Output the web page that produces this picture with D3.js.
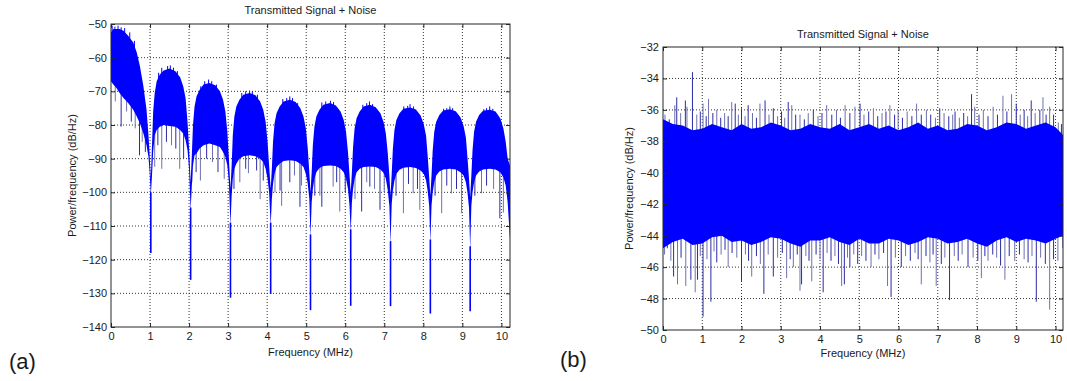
<!DOCTYPE html>
<html>
<head>
<meta charset="utf-8">
<script src="https://cdn.jsdelivr.net/npm/d3@7"></script>
<style>
  body { margin: 0; background: #fff; }
  svg text { font-family: "Liberation Sans", Arial, sans-serif; fill: #1a1a1a; }
</style>
</head>
<body>
<svg id="chart" width="1067" height="381"></svg>
<script>
// ---- data ----
const freqTicks = [0, 1, 2, 3, 4, 5, 6, 7, 8, 9, 10];
const yTicksA = [-140, -130, -120, -110, -100, -90, -80, -70, -60, -50];
const yTicksB = [-50, -48, -46, -44, -42, -40, -38, -36, -34, -32];

// (a) dense PSD band: [MHz, top dB, bottom dB]
const bandA = [
  [0.00, -52.5, -67], [0.06, -51.5, -68], [0.14, -51.5, -69], [0.22, -51.5, -70.5],
  [0.32, -52, -72], [0.44, -53.5, -73.5], [0.57, -55.5, -75.5], [0.66, -58.5, -77.5],
  [0.74, -62.5, -79.5], [0.83, -68.5, -82.5], [0.91, -75.5, -86], [0.96, -83, -89.5],
  [0.99, -89, -94], [1.02, -96, -101],
  [1.05, -86, -95], [1.08, -76, -88], [1.12, -70.5, -83], [1.17, -67, -81.5],
  [1.25, -65, -80.5], [1.35, -63.8, -80], [1.50, -63.2, -80.3], [1.65, -64, -80.5],
  [1.77, -65.8, -81.5], [1.85, -68.5, -82.5], [1.91, -72, -84.5], [1.96, -79, -87.5],
  [2.00, -87, -93], [2.04, -97, -105.5],
  [2.07, -89, -98], [2.10, -80, -92], [2.14, -74.5, -89], [2.19, -71.5, -88.5],
  [2.27, -69.5, -87], [2.37, -68, -86], [2.52, -67.5, -85.5], [2.67, -68.2, -86],
  [2.79, -70, -86.5], [2.87, -72.5, -88], [2.93, -76, -89.5], [2.98, -82, -92],
  [3.02, -90, -97], [3.06, -99, -110],
  [3.09, -92, -101], [3.12, -83, -96], [3.16, -77.5, -93], [3.21, -74.5, -91.5],
  [3.29, -72.5, -90], [3.39, -71, -89.3], [3.55, -70.5, -89], [3.70, -71.2, -89.3],
  [3.82, -73, -90], [3.90, -75.5, -91], [3.96, -79, -93], [4.01, -85, -96],
  [4.05, -92, -100], [4.09, -99, -110],
  [4.12, -93, -102], [4.15, -85, -97.5], [4.19, -79.5, -94.5], [4.24, -76.5, -92.5],
  [4.32, -74.5, -91.5], [4.42, -73, -90.7], [4.58, -72.5, -90.5], [4.73, -73.2, -90.7],
  [4.85, -75, -91.5], [4.93, -77.5, -92.5], [4.99, -81, -94.5], [5.04, -87, -97.5],
  [5.08, -94, -102], [5.11, -100, -113.5],
  [5.14, -94, -103], [5.17, -86, -99], [5.21, -80.5, -96], [5.26, -77.5, -94],
  [5.34, -75.5, -92.8], [5.44, -74, -92.2], [5.61, -73.5, -92], [5.76, -74.2, -92.2],
  [5.88, -76, -93], [5.96, -78.5, -94], [6.02, -82, -96], [6.07, -88, -99],
  [6.11, -95, -104], [6.14, -100, -112],
  [6.17, -94, -103], [6.20, -86.5, -99], [6.24, -81, -96], [6.29, -78, -94],
  [6.37, -76, -93], [6.47, -74.5, -92.5], [6.63, -74, -92.3], [6.78, -74.7, -92.5],
  [6.90, -76.5, -93.2], [6.98, -79, -94.2], [7.04, -82.5, -96], [7.09, -88.5, -99.5],
  [7.13, -95, -104], [7.16, -101, -115.5],
  [7.19, -94.5, -103.5], [7.22, -87, -99.5], [7.26, -81.5, -96.5], [7.31, -78.5, -94.5],
  [7.39, -76.5, -93.3], [7.49, -75.2, -92.7], [7.66, -74.8, -92.5], [7.81, -75.4, -92.8],
  [7.93, -77.2, -93.5], [8.01, -79.7, -94.5], [8.07, -83.2, -96.5], [8.11, -89, -99.5],
  [8.15, -95.5, -104], [8.18, -101, -115],
  [8.21, -95, -104], [8.24, -87.5, -100], [8.28, -82, -97], [8.33, -79, -95],
  [8.41, -77, -93.8], [8.51, -75.7, -93.2], [8.68, -75.3, -93], [8.83, -75.9, -93.2],
  [8.95, -77.7, -94], [9.03, -80.2, -95], [9.09, -83.7, -97], [9.13, -89.5, -100],
  [9.17, -96, -104.5], [9.20, -101.5, -117],
  [9.23, -95, -104], [9.26, -87.5, -100], [9.30, -82, -97], [9.35, -79, -95],
  [9.43, -77, -93.8], [9.53, -75.8, -93.2], [9.70, -75.5, -93], [9.85, -76, -93.2],
  [9.97, -78, -94], [10.05, -81, -95.5], [10.11, -85, -98], [10.16, -90, -103],
  [10.22, -92, -114],
];
// (a) deep nulls: [MHz, dB]
const nullsA = [
  [1.02, -118], [2.04, -126], [3.06, -131.3], [4.09, -130.2], [5.11, -135],
  [6.14, -133.7], [7.16, -133.8], [8.18, -136], [9.20, -135.3],
];
// (a) spikes below the band
const spikesDownA = [
  [0.11, -73], [0.26, -80.5], [0.40, -76], [0.52, -79], [0.62, -81], [0.73, -89], [0.80, -85], [0.88, -88],
  [1.12, -92.4], [1.20, -86], [1.30, -93], [1.42, -85], [1.55, -86], [1.66, -87], [1.76, -93], [1.86, -90],
  [2.07, -97], [2.18, -94], [2.29, -96.5], [2.45, -90], [2.60, -91], [2.74, -94], [2.90, -96],
  [3.15, -99], [3.30, -97], [3.45, -93], [3.52, -94.3], [3.73, -93.5], [3.82, -102], [3.90, -96.5],
  [4.20, -100], [4.33, -99.5], [4.37, -104], [4.58, -97], [4.70, -95], [4.84, -104.3], [4.88, -98],
  [5.22, -101], [5.35, -101], [5.40, -104.3], [5.69, -98.3], [5.78, -97], [5.86, -105.7], [6.00, -100],
  [6.25, -102], [6.42, -105.7], [6.55, -97], [6.63, -98.3], [6.75, -99], [6.89, -105.2], [7.00, -100],
  [7.30, -101], [7.49, -106.2], [7.62, -97.5], [7.74, -100.3], [7.85, -99], [7.91, -105.2],
  [8.30, -101], [8.47, -106.2], [8.60, -98], [8.72, -100.3], [8.85, -99], [8.98, -106.2],
  [9.32, -101], [9.49, -100.3], [9.62, -98], [9.80, -99], [9.96, -107.7], [10.05, -106],
];
// (a) spikes above the band
const spikesUpA = [
  [0.03, -50.5], [0.10, -50.8], [0.18, -50.5], [0.26, -51], [0.35, -51.2], [0.48, -52.5], [0.60, -55],
  [1.22, -64.5], [1.30, -63], [1.45, -62.5], [1.52, -62.3], [1.60, -63], [1.70, -64],
  [2.30, -68.5], [2.40, -67], [2.50, -66.5], [2.58, -67], [2.70, -68],
  [3.35, -70.5], [3.45, -70], [3.55, -69.8], [3.62, -70], [3.75, -71],
  [4.40, -72.3], [4.50, -72], [4.58, -71.5], [4.65, -72], [4.78, -73.5],
  [5.40, -73.3], [5.50, -73], [5.62, -72.8], [5.70, -73.2],
  [6.45, -74], [6.55, -73.5], [6.62, -73], [6.70, -73.8],
  [7.50, -74.5], [7.60, -74.3], [7.66, -73.8], [7.75, -74.5],
  [8.52, -75.2], [8.60, -75], [8.68, -74.5], [8.75, -75],
  [9.55, -75.3], [9.62, -75], [9.70, -74.5], [9.78, -75.2],
];

// (b) noise band: [MHz, top dB, bottom dB]
const bandB = [
  [0.00, -36.6, -44.8], [0.25, -36.9, -44.4], [0.50, -37.0, -44.2], [0.75, -37.3, -44.6],
  [1.00, -37.2, -44.5], [1.25, -36.9, -44.1], [1.50, -37.1, -44.0], [1.75, -37.3, -44.4],
  [2.00, -36.9, -44.3], [2.25, -37.2, -44.6], [2.50, -37.1, -44.4], [2.75, -36.8, -44.1],
  [3.00, -37.0, -44.2], [3.25, -37.3, -44.5], [3.50, -37.2, -44.7], [3.75, -36.9, -44.3],
  [4.00, -37.1, -44.3], [4.25, -37.2, -44.1], [4.50, -36.9, -44.4], [4.75, -37.3, -44.6],
  [5.00, -37.1, -44.2], [5.25, -36.9, -44.5], [5.50, -37.2, -44.5], [5.75, -37.0, -44.2],
  [6.00, -37.3, -44.3], [6.25, -37.1, -44.6], [6.50, -36.8, -44.4], [6.75, -37.2, -44.1],
  [7.00, -37.0, -44.2], [7.25, -37.3, -44.5], [7.50, -37.2, -44.4], [7.75, -36.9, -44.2],
  [8.00, -37.0, -44.5], [8.25, -37.3, -44.7], [8.50, -37.1, -44.3], [8.75, -36.8, -44.1],
  [9.00, -36.9, -44.4], [9.25, -37.2, -44.2], [9.50, -37.0, -44.3], [9.75, -36.8, -44.5],
  [10.00, -37.1, -44.2], [10.19, -37.6, -44.0],
];
const spikesUpB = [
  [0.05, -36.3], [0.16, -36.6], [0.30, -35.7], [0.35, -35.2], [0.45, -36.2], [0.57, -35.4], [0.61, -35.8],
  [0.75, -33.6], [0.86, -36.3], [0.95, -36.1], [1.02, -35.6], [1.10, -36.4], [1.16, -35.3], [1.27, -36.2],
  [1.37, -36.0], [1.47, -36.5], [1.57, -36.2], [1.66, -36.4], [1.75, -35.5], [1.84, -35.6], [1.92, -36.3],
  [2.00, -35.9], [2.09, -36.4], [2.17, -35.7], [2.28, -36.2], [2.38, -36.5], [2.47, -35.6], [2.60, -35.4],
  [2.70, -36.3], [2.81, -35.9], [2.92, -36.4], [3.02, -36.1], [3.10, -36.5], [3.19, -35.5], [3.28, -35.7],
  [3.38, -36.3], [3.49, -36.3], [3.60, -36.6], [3.70, -36.2], [3.83, -36.0], [3.95, -36.4], [4.05, -36.2],
  [4.17, -35.7], [4.30, -36.3], [4.42, -36.0], [4.52, -36.5], [4.64, -35.7], [4.76, -36.2], [4.89, -35.8],
  [5.02, -35.6], [5.12, -36.3], [5.24, -36.1], [5.36, -35.9], [5.47, -36.4], [5.58, -36.2], [5.68, -36.1],
  [5.78, -35.7], [5.90, -36.3], [5.99, -36.0], [6.10, -36.5], [6.22, -36.1], [6.34, -36.4], [6.46, -35.6],
  [6.58, -36.3], [6.71, -36.0], [6.82, -36.3], [6.94, -36.5], [7.05, -35.9], [7.16, -36.2], [7.28, -36.4],
  [7.38, -36.3], [7.44, -36.1], [7.55, -36.5], [7.66, -36.2], [7.76, -36.4], [7.86, -35.0], [7.94, -35.8],
  [8.05, -36.3], [8.16, -36.0], [8.28, -36.4], [8.41, -35.8], [8.52, -36.3], [8.66, -35.1], [8.76, -36.1],
  [8.88, -35.0], [9.00, -35.6], [9.10, -36.3], [9.20, -36.0], [9.29, -36.4], [9.38, -35.4], [9.48, -36.2],
  [9.60, -36.0], [9.68, -35.2], [9.76, -36.3], [9.85, -35.8], [9.95, -36.3], [10.07, -36.8], [10.15, -36.9],
];
const spikesDownB = [
  [0.04, -45.2], [0.11, -44.8], [0.20, -45.6], [0.27, -46.6], [0.37, -47.1], [0.46, -45.4], [0.58, -47.2],
  [0.71, -46.8], [0.82, -47.6], [0.88, -46.8], [0.95, -45.3], [1.02, -49.15], [1.12, -45.5], [1.22, -48.2],
  [1.30, -45.0], [1.37, -45.7], [1.48, -45.2], [1.58, -44.9], [1.66, -46.0], [1.76, -45.1], [1.88, -45.4],
  [2.00, -46.9], [2.10, -45.2], [2.18, -45.6], [2.26, -46.6], [2.38, -45.3], [2.48, -45.8], [2.57, -47.7],
  [2.68, -45.2], [2.81, -46.6], [2.92, -45.4], [3.04, -45.1], [3.15, -46.7], [3.24, -45.5], [3.32, -46.0],
  [3.42, -45.2], [3.49, -47.5], [3.53, -47.1], [3.64, -45.3], [3.72, -45.6], [3.79, -46.9], [3.90, -45.2],
  [4.00, -45.5], [4.08, -47.6], [4.18, -45.1], [4.28, -45.6], [4.38, -45.3], [4.47, -45.8], [4.55, -47.2],
  [4.62, -47.1], [4.70, -45.4], [4.76, -46.0], [4.86, -45.2], [4.96, -45.8], [5.06, -45.3], [5.17, -45.6],
  [5.30, -46.0], [5.40, -45.2], [5.50, -45.5], [5.62, -45.1], [5.72, -47.2], [5.81, -47.9], [5.92, -45.4],
  [6.07, -46.0], [6.18, -45.3], [6.30, -45.6], [6.42, -45.1], [6.50, -45.5], [6.58, -47.1], [6.70, -45.3],
  [6.80, -45.7], [6.88, -45.2], [6.96, -47.2], [7.09, -45.8], [7.18, -45.4], [7.30, -48.1], [7.42, -45.3],
  [7.52, -45.6], [7.62, -45.2], [7.77, -46.0], [7.90, -45.4], [8.02, -45.6], [8.11, -46.7], [8.20, -45.3],
  [8.28, -45.6], [8.40, -45.2], [8.50, -45.4], [8.60, -45.9], [8.71, -46.8], [8.82, -45.3], [8.96, -45.6],
  [9.08, -45.2], [9.20, -45.5], [9.30, -45.7], [9.40, -45.3], [9.51, -48.2], [9.62, -45.4], [9.74, -45.8],
  [9.85, -48.7], [9.95, -45.5], [10.06, -45.6], [10.19, -44.8],
];

const title = 'Transmitted Signal + Noise';
const xLabel = 'Frequency (MHz)';
const yLabel = 'Power/frequency (dB/Hz)';

// ---- drawing ----
const svg = d3.select('#chart');
const blue = '#0000ff';
const spikeGray = ['#6f71ad', '#2b2ba8'];

function bandAt(band, f) {
  let i = d3.bisector((d) => d[0]).left(band, f);
  i = Math.max(1, Math.min(band.length - 1, i));
  const a = band[i - 1], b = band[i];
  const t = (f - a[0]) / (b[0] - a[0]);
  return [a[1] + (b[1] - a[1]) * t, a[2] + (b[2] - a[2]) * t];
}

function drawPanel(p) {
  const { x, y } = p;
  const [x0, x1] = x.range();
  const [yb, yt] = y.range();
  const g = svg.append('g');

  // dotted grid
  g.append('g').selectAll('line').data(p.xTicks.slice(1)).join('line')
    .attr('x1', (d) => x(d)).attr('x2', (d) => x(d))
    .attr('y1', yb).attr('y2', yt)
    .attr('stroke', '#333').attr('stroke-dasharray', '1,2');
  g.append('g').selectAll('line').data(p.yTicks.slice(1, -1)).join('line')
    .attr('x1', x0).attr('x2', x1)
    .attr('y1', (d) => y(d)).attr('y2', (d) => y(d))
    .attr('stroke', '#333').attr('stroke-dasharray', '1,2');

  svg.append('defs').append('clipPath').attr('id', 'clip-' + p.id)
    .append('rect').attr('x', x0).attr('y', yt).attr('width', x1 - x0).attr('height', yb - yt);
  const plot = g.append('g').attr('clip-path', `url(#clip-${p.id})`);

  const mid = (f) => { const b = bandAt(p.band, f); return (b[0] + b[1]) / 2; };

  plot.append('g').selectAll('line').data(p.spikesDown).join('line')
    .attr('x1', (d) => x(d[0])).attr('x2', (d) => x(d[0]))
    .attr('y1', (d) => y(mid(d[0]))).attr('y2', (d) => y(d[1]))
    .attr('stroke', (d, i) => spikeGray[i % 2]).attr('stroke-width', 1);
  plot.append('g').selectAll('line').data(p.spikesUp).join('line')
    .attr('x1', (d) => x(d[0])).attr('x2', (d) => x(d[0]))
    .attr('y1', (d) => y(mid(d[0]))).attr('y2', (d) => y(d[1]))
    .attr('stroke', (d, i) => (p.id === 'b' ? spikeGray[i % 2] : blue)).attr('stroke-width', 1);

  if (p.nulls) {
    plot.append('g').selectAll('line').data(p.nulls).join('line')
      .attr('x1', (d) => x(d[0])).attr('x2', (d) => x(d[0]))
      .attr('y1', (d) => y(bandAt(p.band, d[0])[1] + 1)).attr('y2', (d) => y(d[1]))
      .attr('stroke', blue).attr('stroke-width', 1.6);
  }

  plot.append('path').datum(p.band)
    .attr('fill', blue)
    .attr('d', d3.area().x((d) => x(d[0])).y0((d) => y(d[2])).y1((d) => y(d[1])));

  // box
  g.append('rect').attr('x', x0).attr('y', yt).attr('width', x1 - x0).attr('height', yb - yt)
    .attr('fill', 'none').attr('stroke', '#262626').attr('stroke-width', 1);

  // inward ticks on all four sides
  const styleAxis = (a) => {
    a.select('.domain').remove();
    a.selectAll('line').attr('stroke', '#262626');
    a.selectAll('text').attr('font-size', 11).attr('font-family', '"Liberation Sans", Arial, sans-serif');
  };
  g.append('g').attr('transform', `translate(0,${yb})`)
    .call(d3.axisBottom(x).tickValues(p.xTicks).tickSizeInner(-4).tickSizeOuter(0).tickPadding(p.xPad))
    .call(styleAxis);
  g.append('g').attr('transform', `translate(0,${yt})`)
    .call(d3.axisTop(x).tickValues(p.xTicks).tickSizeInner(-4).tickSizeOuter(0).tickFormat(''))
    .call(styleAxis);
  g.append('g').attr('transform', `translate(${x0},0)`)
    .call(d3.axisLeft(y).tickValues(p.yTicks).tickSizeInner(-4).tickSizeOuter(0).tickPadding(4))
    .call(styleAxis);
  g.append('g').attr('transform', `translate(${x1},0)`)
    .call(d3.axisRight(y).tickValues(p.yTicks).tickSizeInner(-4).tickSizeOuter(0).tickFormat(''))
    .call(styleAxis);

  const cx = (x0 + x1) / 2;
  g.append('text').attr('x', cx).attr('y', p.titleY).attr('text-anchor', 'middle')
    .attr('font-size', 11).text(title);
  g.append('text').attr('x', cx).attr('y', p.xLabelY).attr('text-anchor', 'middle')
    .attr('font-size', 11).text(xLabel);
  g.append('text').attr('transform', `translate(${p.yLabelX},${(yb + yt) / 2}) rotate(-90)`)
    .attr('text-anchor', 'middle').attr('font-size', 11).text(yLabel);
  g.append('text').attr('x', p.tagX).attr('y', p.tagY)
    .attr('font-size', 22).text(p.tag);
}

drawPanel({
  id: 'a',
  x: d3.scaleLinear().domain([0, 10.22]).range([111, 510]),
  y: d3.scaleLinear().domain([-140, -50]).range([327, 24]),
  xTicks: freqTicks, yTicks: yTicksA,
  band: bandA, nulls: nullsA, spikesDown: spikesDownA, spikesUp: spikesUpA,
  xPad: 5, titleY: 14, xLabelY: 356, yLabelX: 76, tag: '(a)', tagX: 9, tagY: 369,
});

drawPanel({
  id: 'b',
  x: d3.scaleLinear().domain([0, 10.19]).range([663, 1063]),
  y: d3.scaleLinear().domain([-50, -32]).range([330, 47]),
  xTicks: freqTicks, yTicks: yTicksB,
  band: bandB, nulls: null, spikesDown: spikesDownB, spikesUp: spikesUpB,
  xPad: 5, titleY: 38, xLabelY: 357, yLabelX: 633, tag: '(b)', tagX: 560, tagY: 367,
});
</script>
</body>
</html>
